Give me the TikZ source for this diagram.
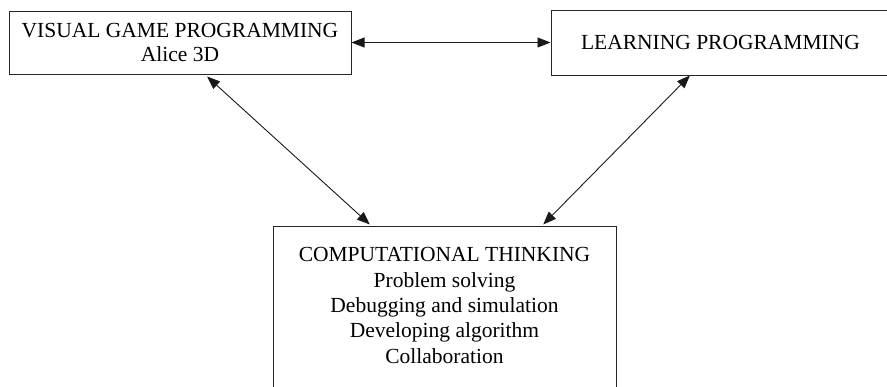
\documentclass[tikz,border=0pt]{standalone}
\usepackage{fontspec}
\setmainfont{Liberation Serif}
\usetikzlibrary{arrows.meta,calc}
\begin{document}
\begin{tikzpicture}[x=1pt,y=-1pt,
  box/.style={draw=black!85,line width=1pt,rectangle,inner sep=0pt,
    align=center,font=\fontsize{21.5}{24.5}\selectfont},
  txt/.style={inner sep=0pt,align=center,font=\fontsize{21.5}{25.3}\selectfont},
  link/.style={draw=black!90,line width=0.9pt,
    {Triangle[length=13pt,width=10pt]}-{Triangle[length=13pt,width=10pt]}}]
\useasboundingbox (0,0) rectangle (887,386);
\clip (0,0) rectangle (887,386);
% boxes
\node[box,minimum width=342,minimum height=63] (vgp) at (180,42.5)
  {VISUAL GAME PROGRAMMING\\Alice 3D};
\node[box,minimum width=339,minimum height=65] (lp) at (720.5,42.5)
  {LEARNING PROGRAMMING};
\node[box,minimum width=343,minimum height=200,anchor=north] (ct) at (444.5,226) {};
\node[txt,anchor=north] (ctt) at (444.5,247.5)
  {COMPUTATIONAL THINKING\\Problem solving\\Debugging and simulation\\Developing algorithm\\Collaboration};
% connectors
\coordinate (a1) at ($(vgp.south west)!0.579!(vgp.south east)+(0,2)$);
\coordinate (a2) at ($(ct.north west)!0.283!(ct.north east)+(0,-1.5)$);
\coordinate (b1) at ($(lp.south west)!0.41!(lp.south east)$);
\coordinate (b2) at ($(ct.north west)!0.787!(ct.north east)+(0,-1.5)$);
\draw[link] (vgp.east) -- (lp.west);
\draw[link] (a1) -- (a2);
\draw[link] (b1) -- (b2);
\end{tikzpicture}
\end{document}
